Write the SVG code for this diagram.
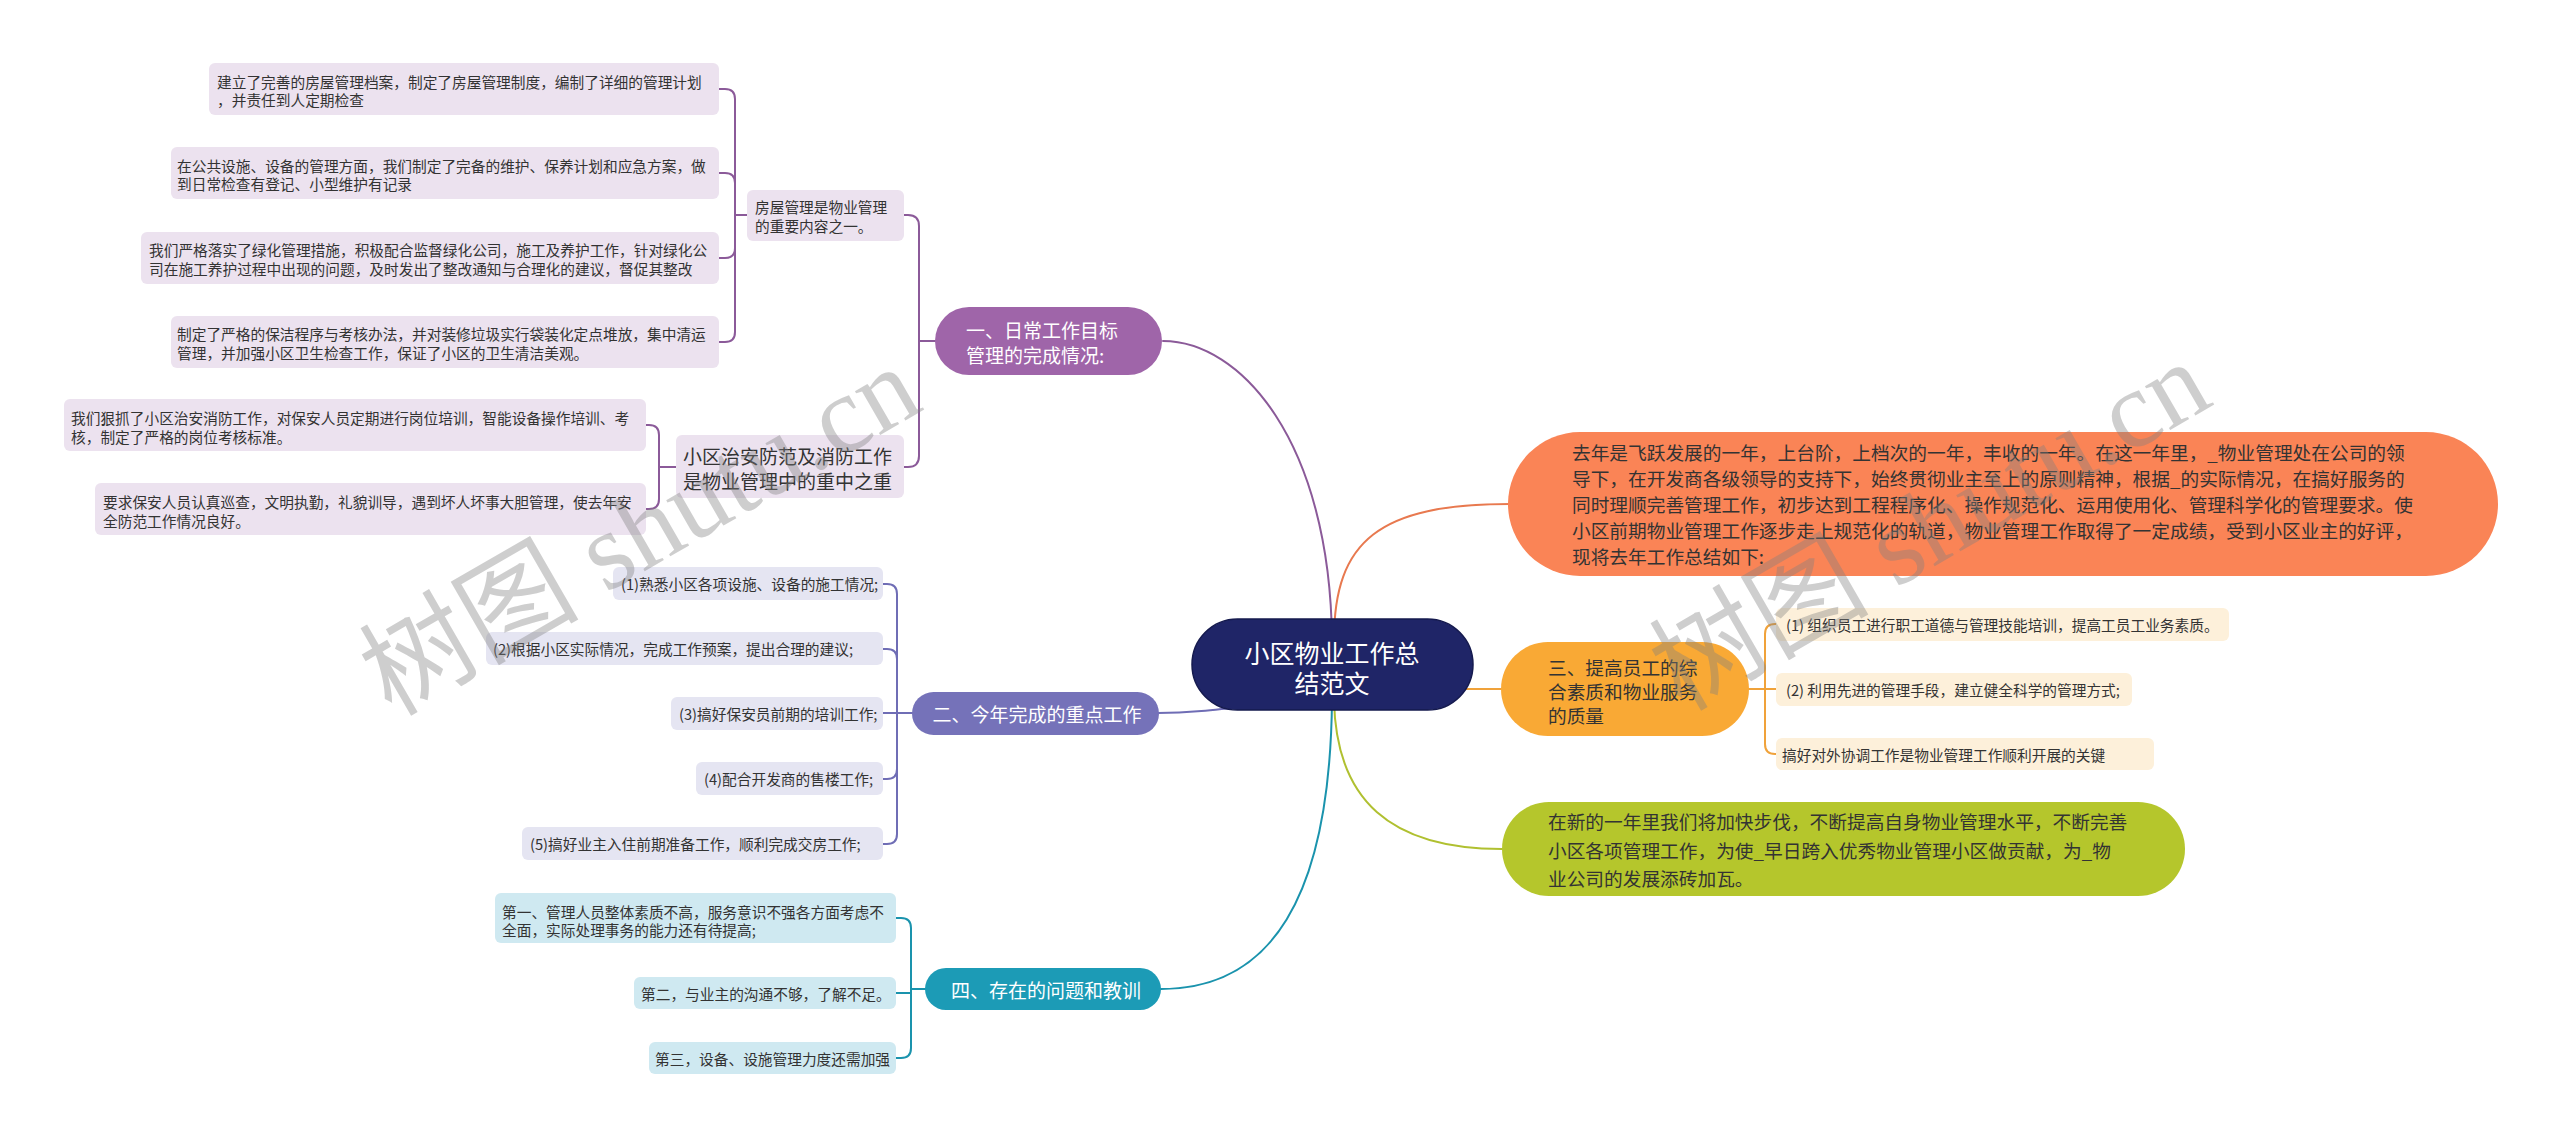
<svg xmlns="http://www.w3.org/2000/svg" width="2560" height="1137" viewBox="0 0 2560 1137">
<style>
text{font-family:"Noto Sans CJK SC","Noto Sans",sans-serif;dominant-baseline:central}
.lt{font-size:14.7px;fill:#333}
.mt{font-size:19px;fill:#333}
.wt{font-size:19px;fill:#fff}
.bt{font-size:18.7px;fill:#333}
.c{fill:none;stroke-width:2;stroke-linecap:round}
.p1{stroke:#8b5a99}.p2{stroke:#6f6db5}.p4{stroke:#1a93ad}
.po{stroke:#e8794f}.py{stroke:#f0a23a}.pg{stroke:#b0c030}
.l1{fill:#ece2ef}.l2{fill:#e5e5f2}.l4{fill:#cfe9f1}.l3{fill:#fdf0da}
.wm{font-family:"Liberation Serif","Noto Sans CJK SC",serif;font-size:110px;fill:#808080;opacity:0.38;dominant-baseline:auto}
</style>
<rect width="2560" height="1137" fill="#fff"/>
<g id="connectors">
<path class="c p1" d="M1163 341 C1240 341 1330 440 1332 640"/>
<path class="c p1" d="M935 341 H919 V226 Q919 215 908 215 H904"/>
<path class="c p1" d="M935 341 H919 V456 Q919 467 908 467 H904"/>
<path class="c p1" d="M747 215 H735 V99 Q735 89 725 89 H719"/>
<path class="c p1" d="M747 215 H735 V183 Q735 173 725 173 H719"/>
<path class="c p1" d="M747 215 H735 V248 Q735 258 725 258 H719"/>
<path class="c p1" d="M747 215 H735 V332 Q735 342 725 342 H719"/>
<path class="c p1" d="M676 467 H659 V435 Q659 425 649 425 H646"/>
<path class="c p1" d="M676 467 H659 V499 Q659 509 649 509 H646"/>
<path class="c p2" d="M1158 713 C1190 713 1215 710 1260 705"/>
<path class="c p2" d="M912 713 H897 V594 Q897 584 887 584 H883"/>
<path class="c p2" d="M912 713 H897 V659 Q897 649 887 649 H883"/>
<path class="c p2" d="M912 713 H883"/>
<path class="c p2" d="M912 713 H897 V769 Q897 779 887 779 H883"/>
<path class="c p2" d="M912 713 H897 V834 Q897 844 887 844 H883"/>
<path class="c p4" d="M1161 989 C1270 989 1330 900 1332 700"/>
<path class="c p4" d="M925 989 H911 V928 Q911 918 901 918 H896"/>
<path class="c p4" d="M925 989 H911 V993 H896"/>
<path class="c p4" d="M925 989 H911 V1048 Q911 1058 901 1058 H896"/>
<path class="c po" d="M1334 640 C1334 540 1380 504 1510 504"/>
<path class="c py" d="M1460 689 H1501"/>
<path class="c py" d="M1749 689 H1765 V634 Q1765 624 1775 624 H1776"/>
<path class="c py" d="M1749 689 H1776"/>
<path class="c py" d="M1749 689 H1765 V744 Q1765 754 1775 754 H1776"/>
<path class="c pg" d="M1334 700 C1336 800 1390 849 1502 849"/>
</g>
<g id="root">
<rect x="1192" y="619" width="281" height="91" rx="45.5" fill="#1f2567" stroke="#151a4e" stroke-width="1.5"/>
<text x="1332" y="652" text-anchor="middle" font-size="25" fill="#fff">小区物业工作总</text>
<text x="1332" y="682" text-anchor="middle" font-size="25" fill="#fff">结范文</text>
</g>
<g id="b1">
<rect x="935" y="307" width="227" height="68" rx="34" fill="#9f65a9"/>
<text class="wt" x="966" y="329">一、日常工作目标</text>
<text class="wt" x="966" y="354">管理的完成情况:</text>
</g>
<g id="b1-house">
<rect class="l1" x="747" y="190" width="157" height="51" rx="6"/>
<text class="lt" x="755" y="206">房屋管理是物业管理</text>
<text class="lt" x="755" y="225">的重要内容之一。</text>
</g>
<g id="b1-h1">
<rect class="l1" x="209" y="63" width="510" height="52" rx="6"/>
<text class="lt" x="217" y="81">建立了完善的房屋管理档案，制定了房屋管理制度，编制了详细的管理计划</text>
<text class="lt" x="217" y="99">，并责任到人定期检查</text>
</g>
<g id="b1-h2">
<rect class="l1" x="171" y="147" width="548" height="52" rx="6"/>
<text class="lt" x="177" y="165">在公共设施、设备的管理方面，我们制定了完备的维护、保养计划和应急方案，做</text>
<text class="lt" x="177" y="183">到日常检查有登记、小型维护有记录</text>
</g>
<g id="b1-h3">
<rect class="l1" x="141" y="232" width="578" height="52" rx="6"/>
<text class="lt" x="149" y="249">我们严格落实了绿化管理措施，积极配合监督绿化公司，施工及养护工作，针对绿化公</text>
<text class="lt" x="149" y="268">司在施工养护过程中出现的问题，及时发出了整改通知与合理化的建议，督促其整改</text>
</g>
<g id="b1-h4">
<rect class="l1" x="171" y="316" width="548" height="52" rx="6"/>
<text class="lt" x="177" y="333">制定了严格的保洁程序与考核办法，并对装修垃圾实行袋装化定点堆放，集中清运</text>
<text class="lt" x="177" y="352">管理，并加强小区卫生检查工作，保证了小区的卫生清洁美观。</text>
</g>
<g id="b1-security">
<rect class="l1" x="676" y="435" width="228" height="63" rx="6"/>
<text class="mt" x="683" y="455">小区治安防范及消防工作</text>
<text class="mt" x="683" y="480">是物业管理中的重中之重</text>
</g>
<g id="b1-s1">
<rect class="l1" x="64" y="399" width="582" height="52" rx="6"/>
<text class="lt" x="71" y="417">我们狠抓了小区治安消防工作，对保安人员定期进行岗位培训，智能设备操作培训、考</text>
<text class="lt" x="71" y="436">核，制定了严格的岗位考核标准。</text>
</g>
<g id="b1-s2">
<rect class="l1" x="95" y="483" width="551" height="52" rx="6"/>
<text class="lt" x="103" y="501">要求保安人员认真巡查，文明执勤，礼貌训导，遇到坏人坏事大胆管理，使去年安</text>
<text class="lt" x="103" y="520">全防范工作情况良好。</text>
</g>
<g id="b2">
<rect x="912" y="692" width="247" height="43" rx="21.5" fill="#7572b9"/>
<text class="wt" x="1037" y="713" text-anchor="middle">二、今年完成的重点工作</text>
</g>
<g id="b2-1">
<rect class="l2" x="613" y="567" width="270" height="33" rx="6"/>
<text class="lt" x="621" y="583.5">(1)熟悉小区各项设施、设备的施工情况;</text>
</g>
<g id="b2-2">
<rect class="l2" x="486" y="632" width="397" height="33" rx="6"/>
<text class="lt" x="493" y="648.5">(2)根据小区实际情况，完成工作预案，提出合理的建议;</text>
</g>
<g id="b2-3">
<rect class="l2" x="671" y="697" width="212" height="33" rx="6"/>
<text class="lt" x="679" y="713.5">(3)搞好保安员前期的培训工作;</text>
</g>
<g id="b2-4">
<rect class="l2" x="696" y="762" width="187" height="33" rx="6"/>
<text class="lt" x="704" y="778.5">(4)配合开发商的售楼工作;</text>
</g>
<g id="b2-5">
<rect class="l2" x="522" y="827" width="361" height="33" rx="6"/>
<text class="lt" x="530" y="843.5">(5)搞好业主入住前期准备工作，顺利完成交房工作;</text>
</g>
<g id="b4">
<rect x="925" y="968" width="236" height="42" rx="21" fill="#1c9bb6"/>
<text class="wt" x="1046" y="989" text-anchor="middle">四、存在的问题和教训</text>
</g>
<g id="b4-1">
<rect class="l4" x="495" y="893" width="401" height="50" rx="6"/>
<text class="lt" x="502" y="911">第一、管理人员整体素质不高，服务意识不强各方面考虑不</text>
<text class="lt" x="502" y="929">全面，实际处理事务的能力还有待提高;</text>
</g>
<g id="b4-2">
<rect class="l4" x="634" y="977" width="262" height="32" rx="6"/>
<text class="lt" x="641" y="993">第二，与业主的沟通不够，了解不足。</text>
</g>
<g id="b4-3">
<rect class="l4" x="649" y="1042" width="247" height="32" rx="6"/>
<text class="lt" x="655" y="1058">第三，设备、设施管理力度还需加强</text>
</g>
<g id="intro">
<rect x="1508" y="432" width="990" height="144" rx="72" fill="#fa8456"/>
<text class="bt" x="1572" y="451">去年是飞跃发展的一年，上台阶，上档次的一年，丰收的一年。在这一年里，_物业管理处在公司的领</text>
<text class="bt" x="1572" y="477">导下，在开发商各级领导的支持下，始终贯彻业主至上的原则精神，根据_的实际情况，在搞好服务的</text>
<text class="bt" x="1572" y="503">同时理顺完善管理工作，初步达到工程程序化、操作规范化、运用使用化、管理科学化的管理要求。使</text>
<text class="bt" x="1572" y="529">小区前期物业管理工作逐步走上规范化的轨道，物业管理工作取得了一定成绩，受到小区业主的好评，</text>
<text class="bt" x="1572" y="555">现将去年工作总结如下:</text>
</g>
<g id="b3">
<rect x="1501" y="642" width="248" height="94" rx="47" fill="#f9a935"/>
<text class="bt" x="1548" y="666">三、提高员工的综</text>
<text class="bt" x="1548" y="690">合素质和物业服务</text>
<text class="bt" x="1548" y="714">的质量</text>
</g>
<g id="b3-1">
<rect class="l3" x="1776" y="608" width="453" height="33" rx="6"/>
<text class="lt" x="1786" y="624.5">(1) 组织员工进行职工道德与管理技能培训，提高工员工业务素质。</text>
</g>
<g id="b3-2">
<rect class="l3" x="1776" y="673" width="356" height="33" rx="6"/>
<text class="lt" x="1786" y="689.5">(2) 利用先进的管理手段，建立健全科学的管理方式;</text>
</g>
<g id="b3-3">
<rect class="l3" x="1776" y="738" width="378" height="32" rx="6"/>
<text class="lt" x="1782" y="754">搞好对外协调工作是物业管理工作顺利开展的关键</text>
</g>
<g id="outlook">
<rect x="1502" y="802" width="683" height="94" rx="47" fill="#b5c62c"/>
<text class="bt" x="1548" y="820">在新的一年里我们将加快步伐，不断提高自身物业管理水平，不断完善</text>
<text class="bt" x="1548" y="849">小区各项管理工作，为使_早日跨入优秀物业管理小区做贡献，为_物</text>
<text class="bt" x="1548" y="877">业公司的发展添砖加瓦。</text>
</g>
<g id="watermarks">
<text class="wm" x="640" y="568" text-anchor="middle" transform="rotate(-30 640 531)">树图 shutu.cn</text>
<text class="wm" x="1930" y="563" text-anchor="middle" transform="rotate(-30 1930 526)">树图 shutu.cn</text>
</g>
</svg>
